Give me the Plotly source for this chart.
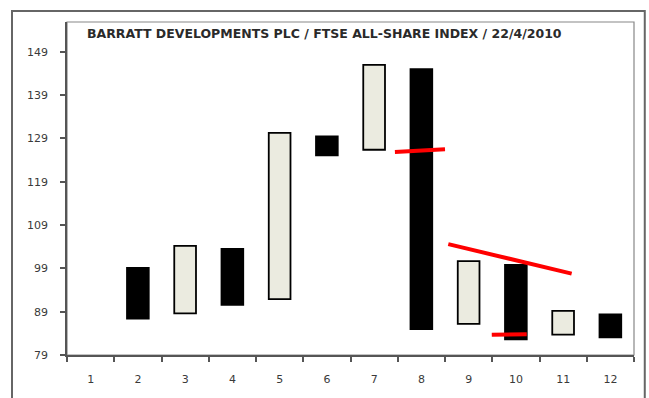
import plotly.graph_objects as go

categories = [1, 2, 3, 4, 5, 6, 7, 8, 9, 10, 11, 12]
# open / close of each floating bar (None = no bar)
open_vals = [None, 99.1, 88.6, 103.5, 91.9, 129.5, 126.4, 145.0, 86.2, 99.8, 83.7, 88.4]
close_vals = [None, 87.4, 104.2, 90.6, 130.3, 125.1, 146.0, 85.0, 100.7, 82.6, 89.2, 83.1]
y_ticks = [79, 89, 99, 109, 119, 129, 139, 149]
title_text = "BARRATT DEVELOPMENTS PLC / FTSE ALL-SHARE INDEX / 22/4/2010"

# hand drawn red marks
red1_x = [7.44, 8.5]
red1_y = [125.9, 126.5]
red2_x = [8.57, 11.18]
red2_y = [104.6, 97.8]
red3_x = [9.49, 10.23]
red3_y = [83.7, 83.8]

up_x, up_base, up_h = [], [], []
dn_x, dn_base, dn_h = [], [], []
for c, o, cl in zip(categories, open_vals, close_vals):
    if o is None:
        continue
    if cl >= o:
        up_x.append(c); up_base.append(o); up_h.append(cl - o)
    else:
        dn_x.append(c); dn_base.append(cl); dn_h.append(o - cl)

fig = go.Figure()
fig.add_trace(go.Bar(x=up_x, y=up_h, base=up_base, width=0.46,
                     marker=dict(color="#EBEBE0", line=dict(color="#000000", width=1.8)),
                     showlegend=False))
fig.add_trace(go.Bar(x=dn_x, y=dn_h, base=dn_base, width=0.46,
                     marker=dict(color="#000000", line=dict(color="#000000", width=1.8)),
                     showlegend=False))
for xs, ys in [(red1_x, red1_y), (red2_x, red2_y), (red3_x, red3_y)]:
    fig.add_trace(go.Scatter(x=xs, y=ys, mode="lines",
                             line=dict(color="#FF0000", width=4),
                             showlegend=False, hoverinfo="skip"))

fig.update_layout(
    width=649, height=398,
    margin=dict(l=67, r=15, t=22, b=39),
    paper_bgcolor="white", plot_bgcolor="white",
    barmode="overlay",
    font=dict(family="DejaVu Sans, Arial, sans-serif", size=11, color="#3a3a3a"),
    xaxis=dict(range=[0.5, 12.5], tickmode="array", tickvals=categories,
               ticktext=[str(c) for c in categories], ticks="",
               showgrid=False, zeroline=False, showline=True,
               linecolor="#555555", linewidth=1.5, ticklabelstandoff=13,
               minor=dict(tickmode="array",
                          tickvals=[c - 0.5 for c in categories] + [12.5],
                          ticks="outside", ticklen=5, tickcolor="#555555",
                          tickwidth=1.5, showgrid=False)),
    yaxis=dict(range=[79, 155.9], tickmode="array", tickvals=y_ticks,
               ticks="outside", ticklen=5, tickcolor="#555555", tickwidth=1.5,
               showgrid=False, zeroline=False, showline=True,
               linecolor="#555555", linewidth=1.5, ticklabelstandoff=10),
    shapes=[
        dict(type="rect", xref="paper", yref="paper", x0=0, x1=1, y0=0, y1=1,
             line=dict(color="#888888", width=1.2), layer="below"),
        dict(type="rect", xref="paper", yref="paper", x0=-0.097, x1=1.019,
             y0=-0.3, y1=1.033, line=dict(color="#666666", width=2), layer="below"),
    ],
    annotations=[
        dict(text=title_text, xref="paper", yref="paper", x=0.032, y=0.995,
             xanchor="left", yanchor="top", showarrow=False,
             font=dict(family="DejaVu Sans, Arial, sans-serif", size=12.5,
                       weight="bold", color="#2a2a2a")),
    ],
)

fig.write_html("out.html", config={"displayModeBar": False},
               post_script="document.body.style.margin='0';document.body.style.overflow='hidden';")
